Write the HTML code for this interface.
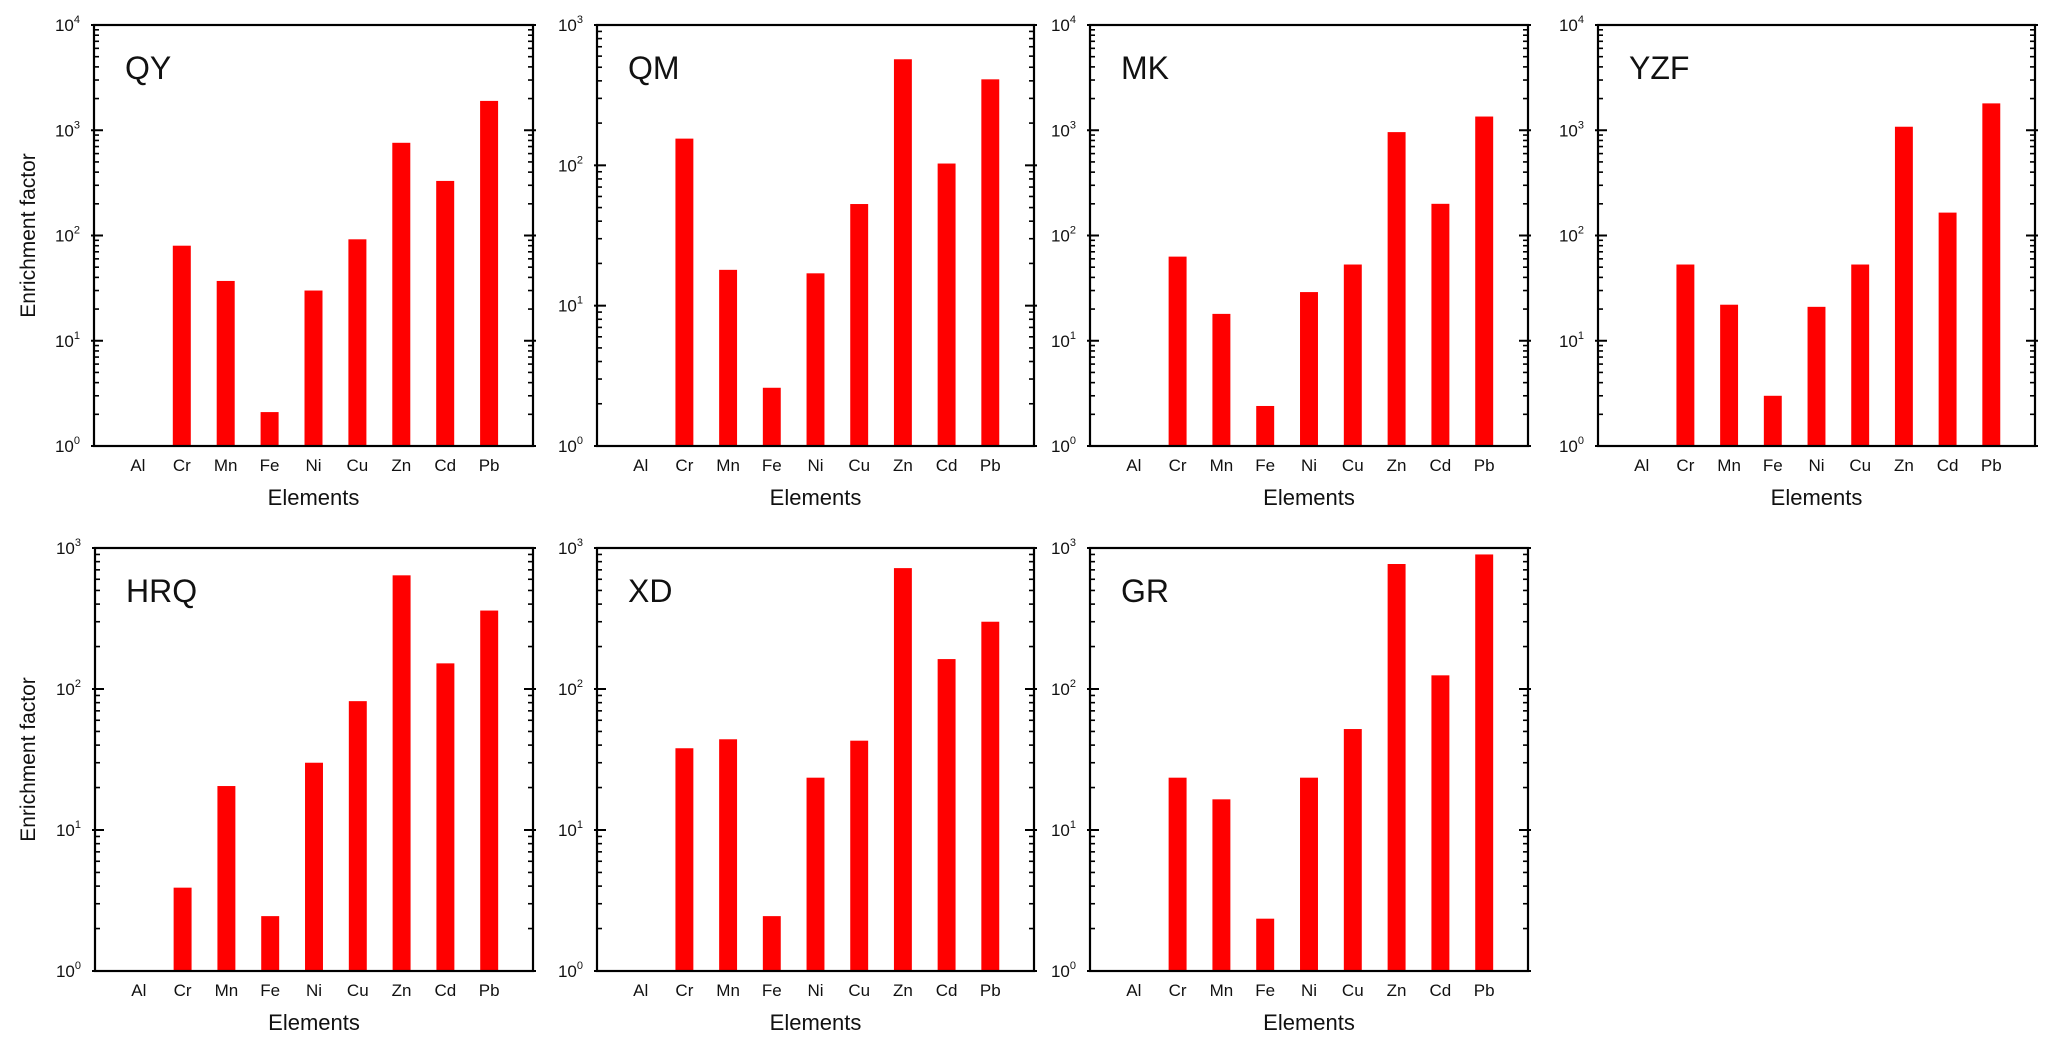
<!DOCTYPE html>
<html><head><meta charset="utf-8"><style>
html,body{margin:0;padding:0;background:#fff;}
svg{display:block;font-family:"Liberation Sans",Arial,sans-serif;}
</style></head><body>
<svg id="fig" width="2067" height="1051" viewBox="0 0 2067 1051" xmlns="http://www.w3.org/2000/svg"></svg>
<script>
const categories = ["Al","Cr","Mn","Fe","Ni","Cu","Zn","Cd","Pb"];
const siteNames = ["QY","QM","MK","YZF","HRQ","XD","GR"];
const valuesQY  = [1, 80, 37, 2.1, 30, 92, 760, 330, 1900];
const valuesQM  = [1, 155, 18, 2.6, 17, 53, 570, 103, 410];
const valuesMK  = [1, 63, 18, 2.4, 29, 53, 960, 200, 1350];
const valuesYZF = [1, 53, 22, 3.0, 21, 53, 1080, 165, 1800];
const valuesHRQ = [1, 3.9, 20.5, 2.45, 30, 82, 640, 152, 360];
const valuesXD  = [1, 38, 44, 2.45, 23.5, 43, 720, 163, 300];
const valuesGR  = [1, 23.5, 16.5, 2.35, 23.5, 52, 770, 125, 900];
const maxExponents = [4, 3, 4, 4, 3, 3, 3];

const seriesList = [valuesQY, valuesQM, valuesMK, valuesYZF, valuesHRQ, valuesXD, valuesGR];
const panelBoxes = [
  {x:94,y:25,w:439,h:421},{x:597,y:25,w:437,h:421},{x:1090,y:25,w:438,h:421},{x:1598,y:25,w:437,h:421},
  {x:95,y:548,w:438,h:423},{x:597,y:548,w:437,h:423},{x:1090,y:548,w:438,h:423}
];
const svg = document.getElementById('fig');
const NS = 'http://www.w3.org/2000/svg';
function mk(tag, attrs, parent){
  const e = document.createElementNS(NS, tag);
  for (const k in attrs) e.setAttribute(k, attrs[k]);
  parent.appendChild(e);
  return e;
}
siteNames.forEach((name, p) => {
  const b = panelBoxes[p];
  const vals = seriesList[p];
  const maxE = maxExponents[p];
  const g = mk('g', {}, svg);
  
  
  const yScale = v => b.y + b.h - (Math.log10(v) / maxE) * b.h;
  const xScale = i => b.x + (i + 1) * b.w / 10;
  const bw = b.w / 10 * 0.41;
  vals.forEach((v, i) => {
    const y = yScale(v);
    const r = mk('rect', {x: xScale(i) - bw/2, y: y, width: bw, height: Math.max(0, b.y + b.h - y), fill: '#ff0000'}, g);
    
    
    const t = mk('text', {x: xScale(i), y: b.y + b.h + 25, 'font-size': 17, 'text-anchor': 'middle', fill: '#111'}, g);
    t.textContent = categories[i];
    
    
  });
  for (let e = 0; e <= maxE; e++) {
    const y = yScale(Math.pow(10, e));
    mk('line', {x1: b.x - 3, x2: b.x + 9, y1: y, y2: y, stroke: '#000', 'stroke-width': 2}, g);
    mk('line', {x1: b.x + b.w - 9, x2: b.x + b.w + 3, y1: y, y2: y, stroke: '#000', 'stroke-width': 2}, g);
    const t = mk('text', {x: b.x - 14, y: y + 6, 'font-size': 17, 'text-anchor': 'end', fill: '#111'}, g);
    t.innerHTML = '10<tspan dy="-8" font-size="11">' + e + '</tspan>';
    
    
    if (e < maxE) {
      for (let m = 2; m <= 9; m++) {
        const ym = yScale(m * Math.pow(10, e));
        mk('line', {x1: b.x, x2: b.x + 5, y1: ym, y2: ym, stroke: '#000', 'stroke-width': 1.6}, g);
        mk('line', {x1: b.x + b.w - 5, x2: b.x + b.w, y1: ym, y2: ym, stroke: '#000', 'stroke-width': 1.6}, g);
      }
    }
  }
  const frame = mk('rect', {x: b.x, y: b.y, width: b.w, height: b.h, fill: 'none', stroke: '#000', 'stroke-width': 2.2}, g);
  
  
  const title = mk('text', {x: b.x + 31, y: b.y + 54, 'font-size': 32, fill: '#111'}, g);
  title.textContent = name;
  
  
  const xt = mk('text', {x: b.x + b.w/2, y: b.y + b.h + 59, 'font-size': 22, 'text-anchor': 'middle', fill: '#111'}, g);
  xt.textContent = 'Elements';
  
  
  if (p === 0 || p === 4) {
    const cy = b.y + b.h/2;
    const yt = mk('text', {x: 35, y: cy, 'font-size': 21, 'text-anchor': 'middle', fill: '#111', transform: 'rotate(-90 35 ' + cy + ')'}, g);
    yt.textContent = 'Enrichment factor';
    
    
  }
});
</script>
</body></html>
